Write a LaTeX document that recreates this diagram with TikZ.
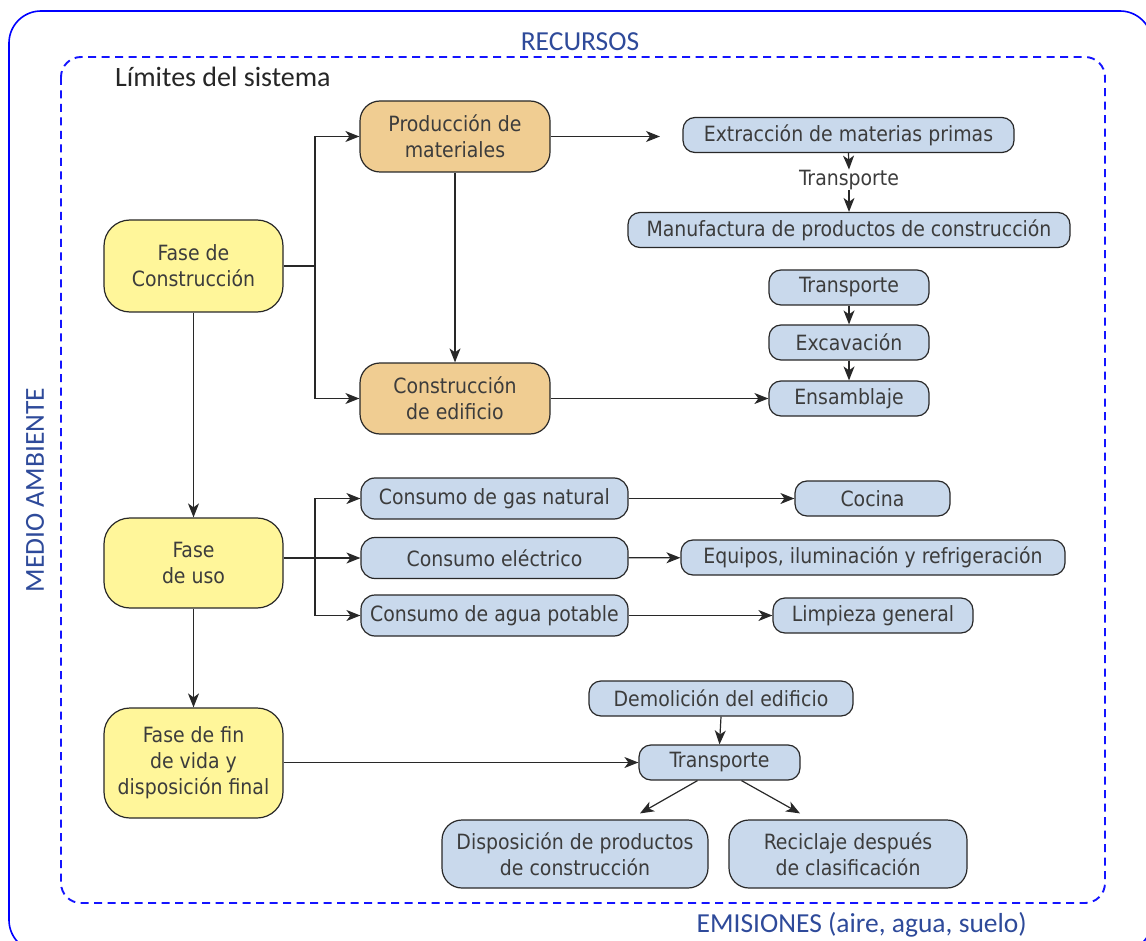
\documentclass[tikz,border=0pt]{standalone}
\usepackage{fontspec}
\IfFontExistsTF{DejaVu Sans Condensed}
  {\setmainfont{DejaVu Sans Condensed}}
  {\setmainfont[FakeStretch=0.9]{DejaVu Sans}}
\newfontfamily\labelfont{Carlito}
\usetikzlibrary{arrows.meta}

\definecolor{faseyellow}{RGB}{255,246,154}
\definecolor{subtan}{RGB}{240,205,146}
\definecolor{stepblue}{RGB}{201,217,236}
\definecolor{boxtext}{RGB}{60,60,60}
\definecolor{boxline}{RGB}{40,40,40}
\definecolor{labelblue}{RGB}{46,74,154}
\definecolor{limitblue}{RGB}{20,20,255}

\tikzset{
	box/.style={draw=boxline, line width=1.2pt, text=boxtext, align=center,
		inner sep=0pt, font=\fontsize{21}{26}\selectfont},
	fasebox/.style={box, fill=faseyellow, rounded corners=26pt, minimum width=179pt},
	matbox/.style={box, fill=subtan, rounded corners=20pt, minimum width=190pt, minimum height=71pt},
	stepbox/.style={box, fill=stepblue, rounded corners=12pt, minimum height=35pt},
	arr/.style={draw=boxline, line width=1.2pt, -{Stealth[length=14pt, width=11pt, inset=4pt]}},
	link/.style={draw=boxline, line width=1.2pt},
	blabel/.style={font=\labelfont\fontsize{27.5}{30}\selectfont, text=labelblue, inner sep=0pt}
}

\begin{document}
\begin{tikzpicture}[x=1pt, y=-1pt]

	\useasboundingbox (0,0) rectangle (1146,941);
	\clip (0,0) rectangle (1146,941);

	%% ENVIRONMENT AND SYSTEM LIMITS

	\draw [blue, line width=1.6pt, rounded corners=32pt] (9,11) rectangle (1152,952);
	\draw [limitblue, line width=1.9pt, dash pattern=on 8pt off 5.5pt, rounded corners=20pt] (61,57) rectangle (1105,903);

	\node [blabel] (recursos) at (580,42) {RECURSOS};
	\node [blabel, rotate=90] (medio) at (35,490) {MEDIO AMBIENTE};
	\node [blabel, anchor=east] (emisiones) at (1027,925) {EMISIONES (aire, agua, suelo)};
	\node [blabel, text=black!85, anchor=west, font=\labelfont\fontsize{28}{30}\selectfont] (limites) at (115,77) {Límites del sistema};

	%% PHASES

	\node [fasebox, minimum height=92pt]  (fconst) at (193.5,266) {Fase de\\Construcción};
	\node [fasebox, minimum height=90pt]  (fuso)   at (193.5,563) {Fase\\de uso};
	\node [fasebox, minimum height=110pt] (ffin)   at (193.5,763) {Fase de fin\\de vida y\\disposición final};

	%% CONSTRUCTION

	\node [matbox] (prod) at (455,136.5) {Producción de\\materiales};
	\node [matbox] (cons) at (455,398.5) {Construcción\\de edificio};

	\node [stepbox, minimum width=331pt] (extr) at (848.5,135) {Extracción de materias primas};
	\node [box, draw=none] (transmat) at (849,180) {Transporte};
	\node [stepbox, minimum width=442pt] (manu) at (849,230) {Manufactura de productos de construcción};

	\node [stepbox, minimum width=160pt] (transobra) at (849,287.5) {Transporte};
	\node [stepbox, minimum width=160pt] (exca)      at (849,342.5) {Excavación};
	\node [stepbox, minimum width=160pt] (ensa)      at (849,398.5) {Ensamblaje};

	% Links
	\coordinate (jconst) at (315,266);
	\coordinate (prodend) at (660,136.5);
	\draw [link] (fconst.east) -- (jconst);
	\draw [arr] (jconst) |- (prod.west);
	\draw [arr] (jconst) |- (cons.west);
	\draw [arr] (prod.south) -- (cons.north);
	\draw [arr] (prod.east) -- (prodend);
	\draw [arr] (extr.south) -- (transmat.north);
	\draw [arr] (transmat.south) -- (manu.north);
	\draw [arr] (transobra) -- (exca);
	\draw [arr] (exca) -- (ensa);
	\draw [arr] (cons.east) -- (ensa.west);

	%% USE

	\node [stepbox, minimum width=267pt, minimum height=41pt, rounded corners=14pt] (gas)  at (494.5,498.5) {Consumo de gas natural};
	\node [stepbox, minimum width=267pt, minimum height=41pt, rounded corners=14pt] (elec) at (494.5,558)   {Consumo eléctrico};
	\node [stepbox, minimum width=267pt, minimum height=41pt, rounded corners=14pt] (agua) at (494.5,615.5) {Consumo de agua potable};

	\node [stepbox, minimum width=155pt] (cocina) at (872.5,498.5) {Cocina};
	\node [stepbox, minimum width=384pt] (equi)   at (873,557.5)   {Equipos, iluminación y refrigeración};
	\node [stepbox, minimum width=200pt] (limp)   at (873,615.5)   {Limpieza general};

	% Links
	\coordinate (juso) at (315,558);
	\draw [arr] (fconst.south) -- (fuso.north);
	\draw [link] (fuso.east |- juso) -- (juso);
	\foreach \c in {gas, elec, agua}
	{
		\draw [arr] (juso) |- (\c.west);
	}
	\draw [arr] (gas) -- (cocina);
	\draw [arr] (elec) -- (equi);
	\draw [arr] (agua) -- (limp);

	%% END OF LIFE

	\node [stepbox, minimum width=264pt] (demo)    at (721,698.5)   {Demolición del edificio};
	\node [stepbox, minimum width=161pt] (transfin) at (719.5,762.5) {Transporte};
	\node [stepbox, minimum width=266pt, minimum height=68pt, rounded corners=20pt] (disp) at (575,854) {Disposición de productos\\de construcción};
	\node [stepbox, minimum width=238pt, minimum height=68pt, rounded corners=20pt] (reci) at (848,854) {Reciclaje después\\de clasificación};

	% Links
	\draw [arr] (fuso.south) -- (ffin.north);
	\draw [arr] (ffin.east |- transfin) -- (transfin.west);
	\draw [arr] (demo.south) -- (transfin.north);
	\draw [arr] ([xshift=-22pt]transfin.south) -- ([xshift=65pt, yshift=6pt]disp.north);
	\draw [arr] ([xshift=22pt]transfin.south) -- ([xshift=-48pt, yshift=6pt]reci.north);

\end{tikzpicture}
\end{document}
